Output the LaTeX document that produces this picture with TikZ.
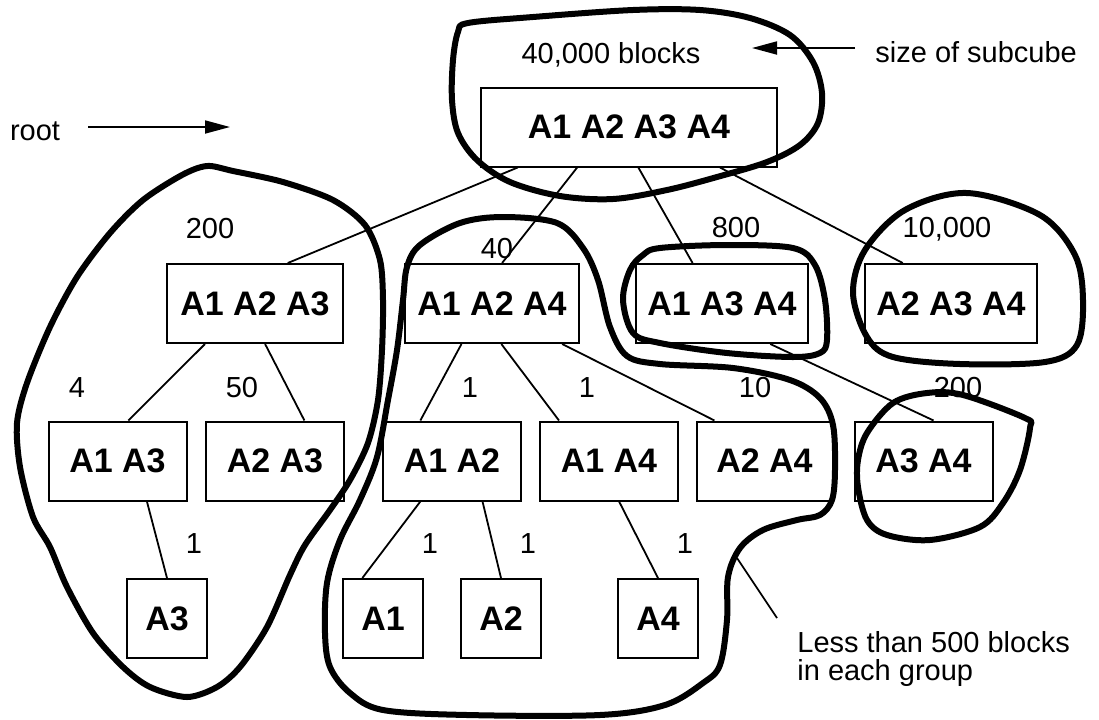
\documentclass[tikz,border=0pt]{standalone}
\usepackage{fontspec}
\setmainfont{Liberation Sans}
\usetikzlibrary{arrows.meta}

\begin{document}
\begin{tikzpicture}[x=0.5pt, y=-0.5pt,
  cube/.style={draw, line width=1pt, minimum height=39.5pt, inner sep=0pt, font=\fontsize{17}{20}\selectfont\bfseries},
  size/.style={inner sep=0pt, font=\fontsize{14.5}{14}\selectfont},
  edge/.style={line width=0.9pt},
  group/.style={line width=3pt, line join=round},
  pointer/.style={line width=0.9pt, -{Triangle[length=12.5pt, width=6.5pt]}}]
\useasboundingbox (0,0) rectangle (1099,719);

% lattice of subcubes
\node[cube, minimum width=148pt] (root) at (629,127) {A1 A2 A3 A4};
\node[cube, minimum width=88pt] (a123) at (255,303.5) {A1 A2 A3};
\node[cube, minimum width=87pt] (a124) at (492,303.5) {A1 A2 A4};
\node[cube, minimum width=86pt] (a134) at (722,303.5) {A1 A3 A4};
\node[cube, minimum width=86pt] (a234) at (951,303.5) {A2 A3 A4};
\node[cube, minimum width=69pt] (a13) at (117.5,461) {A1 A3};
\node[cube, minimum width=69pt] (a23) at (275,461) {A2 A3};
\node[cube, minimum width=69pt] (a12) at (452,461) {A1 A2};
\node[cube, minimum width=69pt] (a14) at (609,461) {A1 A4};
\node[cube, minimum width=68pt] (a24) at (764.5,461) {A2 A4};
\node[cube, minimum width=69pt] (a34) at (923.5,461) {A3 A4};
\node[cube, minimum width=40pt] (a3) at (167,618.5) {A3};
\node[cube, minimum width=40pt] (a1) at (383,618.5) {A1};
\node[cube, minimum width=40pt] (a2) at (501,618.5) {A2};
\node[cube, minimum width=40pt] (a4) at (658,618.5) {A4};

\foreach \a/\b in {root.200/a123.51, root.218/a124.76, root.283/a134.126, root.336/a234.140,
                   a123.219/a13.75, a123.284/a23.54, a13.306/a3.north,
                   a124.233/a12.128, a124.283/a14.141, a124.330/a24.141, a134.320/a34.76,
                   a12.232/a1.117, a12.307/a2.north, a14.284/a4.north}
  \draw[edge] (\a) -- (\b);

% sizes
\foreach \x/\y/\t in {210/238/200, 497/258/40, 736/237/800, 947/237/{10,000},
                      77/397/4, 242/397/50, 470/397/1, 587/397/1, 755/397/10, 958/397/200,
                      194/553/1, 430/553/1, 528/553/1, 685/553/1}
  \node[size, anchor=base] at (\x,\y) {\t};

\node[size, anchor=base] (total) at (611,63) {40,000 blocks};
\node[size, anchor=base] (rootlbl) at (35,140) {root};
\node[size, anchor=base west] (subcube) at (875,62) {size of subcube};
\node[size, anchor=north west, align=left] (note) at (797,631) {Less than 500 blocks\\in each group};

\coordinate (rootfrom) at (88,127);
\coordinate (rootto) at (230,127);
\coordinate (subfrom) at (855,48);
\coordinate (subto) at (752,48);
\draw[pointer] (rootfrom) -- (rootto);
\draw[pointer] (subfrom) -- (subto);

% groups
\draw[group] plot[smooth cycle, tension=0.55] coordinates {(468,23) (533,17) (633,10) (700,10) (750,18) (790,35) (813,62) (822,93) (818,123) (800,145) (767,162) (717,177) (667,190) (613,199) (560,196) (510,182) (477,160) (458,133) (452,100) (453,60) (458,32)};
\draw[group] plot[smooth cycle, tension=0.5] coordinates {(207,166) (233,171) (283,182) (333,200) (365,225) (380,260) (383,300) (382,350) (378,400) (368,443) (350,480) (330,510) (305,545) (290,575) (267,627) (240,667) (217,687) (187,697) (150,687) (123,667) (93,633) (67,587) (50,547) (33,517) (20,467) (17,423) (27,383) (50,327) (77,277) (110,233) (143,200) (182,175)};
\draw[group] plot[smooth cycle, tension=0.55] coordinates {(503,217) (557,223) (583,248) (598,280) (610,327) (627,356) (660,364) (733,368) (790,380) (820,398) (833,425) (835,470) (832,500) (820,515) (797,520) (763,530) (740,548) (728,577) (727,620) (720,665) (703,683) (665,705) (600,715) (467,715) (383,710) (350,693) (330,667) (325,633) (327,583) (340,540) (360,500) (377,457) (388,400) (397,350) (403,300) (407,267) (420,245) (460,223)};
\draw[group] plot[smooth cycle, tension=0.55] coordinates {(643,255) (660,248) (727,245) (793,248) (815,265) (825,300) (827,340) (820,353) (793,357) (727,353) (660,343) (633,333) (623,300) (630,270)};
\draw[group] plot[smooth cycle, tension=0.55] coordinates {(967,193) (1040,215) (1075,255) (1083,300) (1077,345) (1045,362) (960,364) (893,357) (867,337) (853,293) (865,250) (905,210)};
\draw[group] plot[smooth cycle, tension=0.55] coordinates {(893,403) (927,393) (963,395) (1025,418) (1030,428) (1020,470) (1003,503) (980,527) (930,540) (887,535) (867,520) (858,487) (858,460) (867,433)};

\coordinate (tag) at (737,558);
\coordinate (tagend) at (777,618);
\draw[edge] (tag) -- (tagend);
\end{tikzpicture}
\end{document}
